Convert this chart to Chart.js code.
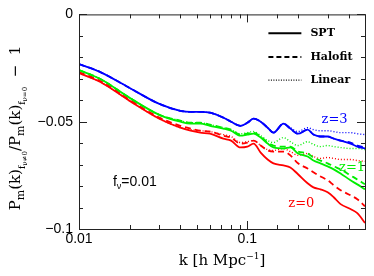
<!DOCTYPE html>
<html>
<head>
<meta charset="utf-8">
<script src="https://cdn.jsdelivr.net/npm/chart.js@4.4.0/dist/chart.umd.min.js"></script>
<style>
  body { margin: 0; background: #fff; }
  #wrap { width: 374px; height: 276px; }
</style>
</head>
<body>
<div id="wrap"><canvas id="ratio"></canvas></div>
<script>
// wavenumbers k [h/Mpc]
const kVals = [0.01, 0.0134, 0.02, 0.03, 0.04, 0.046, 0.0525, 0.06, 0.072, 0.08, 0.091, 0.1, 0.109, 0.12,
  0.132, 0.143, 0.164, 0.18, 0.2, 0.228, 0.247, 0.272, 0.3, 0.326, 0.358, 0.41, 0.45, 0.5];

// z = 3
const spt3 = [-0.0231, -0.0269, -0.0343, -0.0417, -0.0449, -0.0454, -0.0454, -0.0458, -0.0481, -0.0500, -0.0519, -0.0505, -0.0486, -0.0500,
  -0.0528, -0.0551, -0.0509, -0.0532, -0.0556, -0.0537, -0.0560, -0.0569, -0.0569, -0.0579, -0.0588, -0.0602, -0.0616, -0.0625];
const halo3 = [-0.0231, -0.0269, -0.0343, -0.0417, -0.0449, -0.0454, -0.0454, -0.0458, -0.0481, -0.0500, -0.0519, -0.0505, -0.0486, -0.0500,
  -0.0528, -0.0551, -0.0509, -0.0532, -0.0556, -0.0537, -0.0560, -0.0569, -0.0569, -0.0579, -0.0588, -0.0597, -0.0611, -0.0620];
const lin3 = [-0.0231, -0.0269, -0.0343, -0.0417, -0.0449, -0.0454, -0.0454, -0.0458, -0.0481, -0.0500, -0.0519, -0.0505, -0.0486, -0.0500,
  -0.0528, -0.0551, -0.0509, -0.0528, -0.0546, -0.0528, -0.0537, -0.0542, -0.0542, -0.0546, -0.0551, -0.0551, -0.0556, -0.0560];

// z = 1
const spt1 = [-0.0259, -0.0301, -0.0389, -0.0468, -0.0500, -0.0509, -0.0509, -0.0519, -0.0532, -0.0542, -0.0565, -0.0560, -0.0556, -0.0574,
  -0.0602, -0.0620, -0.0625, -0.0620, -0.0648, -0.0662, -0.0681, -0.0694, -0.0708, -0.0722, -0.0741, -0.0773, -0.0792, -0.0815];
const halo1 = [-0.0259, -0.0301, -0.0389, -0.0468, -0.0495, -0.0505, -0.0505, -0.0514, -0.0528, -0.0537, -0.0560, -0.0556, -0.0551, -0.0569,
  -0.0597, -0.0611, -0.0616, -0.0616, -0.0639, -0.0648, -0.0667, -0.0681, -0.0694, -0.0708, -0.0722, -0.0750, -0.0769, -0.0792];
const lin1 = [-0.0259, -0.0301, -0.0389, -0.0468, -0.0495, -0.0505, -0.0505, -0.0514, -0.0528, -0.0537, -0.0556, -0.0551, -0.0546, -0.0565,
  -0.0588, -0.0597, -0.0574, -0.0593, -0.0611, -0.0593, -0.0606, -0.0616, -0.0611, -0.0616, -0.0620, -0.0625, -0.0625, -0.0630];

// z = 0
const spt0 = [-0.0273, -0.0315, -0.0403, -0.0486, -0.0528, -0.0542, -0.0551, -0.0556, -0.0579, -0.0588, -0.0620, -0.0616, -0.0602, -0.0644,
  -0.0676, -0.0694, -0.0704, -0.0713, -0.0745, -0.0787, -0.0806, -0.0815, -0.0829, -0.0852, -0.0884, -0.0907, -0.0926, -0.0972];
const halo0 = [-0.0269, -0.0310, -0.0398, -0.0481, -0.0519, -0.0532, -0.0542, -0.0546, -0.0565, -0.0574, -0.0602, -0.0597, -0.0588, -0.0611,
  -0.0634, -0.0639, -0.0639, -0.0657, -0.0694, -0.0718, -0.0736, -0.0755, -0.0773, -0.0796, -0.0819, -0.0843, -0.0861, -0.0894];
const lin0 = [-0.0273, -0.0315, -0.0403, -0.0486, -0.0528, -0.0537, -0.0542, -0.0546, -0.0560, -0.0569, -0.0597, -0.0593, -0.0588, -0.0611,
  -0.0630, -0.0634, -0.0625, -0.0639, -0.0657, -0.0648, -0.0662, -0.0671, -0.0667, -0.0671, -0.0676, -0.0676, -0.0681, -0.0685];

const xRange = [0.01, 0.5];
const yRange = [-0.1, 0];
const yLabels = { '0': '0', '-5': '\u22120.05', '-10': '\u22120.1' };

const BLUE = '#0000ff', GREEN = '#00ee00', RED = '#ff0000';
const pts = arr => arr.map((v, i) => ({ x: kVals[i], y: v }));

function line(data, color, kind) {
  const ds = { data: pts(data), borderColor: color, pointRadius: 0, fill: false,
    cubicInterpolationMode: 'monotone', borderWidth: 1.8 };
  if (kind === 'dash') ds.borderDash = [6, 4];
  if (kind === 'dot') { ds.borderDash = [1, 2]; ds.borderWidth = 1.4; }
  return ds;
}

const isDecade = v => Math.abs(Math.log10(v) - Math.round(Math.log10(v))) < 1e-6;

function rich(ctx, parts, x, y, center) {
  let w = 0;
  parts.forEach(p => { ctx.font = p[1] + 'px ' + p[3]; w += ctx.measureText(p[0]).width; });
  let cx = center ? x - w / 2 : x;
  parts.forEach(p => {
    ctx.font = p[1] + 'px ' + p[3];
    ctx.fillText(p[0], cx, y + p[2]);
    cx += ctx.measureText(p[0]).width;
  });
}

const SERIF = '"DejaVu Serif"';
const SANS = '"Liberation Sans"';

const decor = {
  id: 'decor',
  afterDraw(chart) {
    const { ctx, chartArea: a, scales: { x, y } } = chart;
    ctx.save();
    ctx.strokeStyle = '#222';
    ctx.lineWidth = 1;
    ctx.strokeRect(a.left + 0.5, a.top + 0.5, a.right - a.left, a.bottom - a.top);
    ctx.beginPath();
    x.ticks.forEach(t => {
      const px = Math.round(x.getPixelForValue(t.value)) + 0.5;
      const len = isDecade(t.value) ? 8 : 4;
      ctx.moveTo(px, a.bottom); ctx.lineTo(px, a.bottom - len);
      ctx.moveTo(px, a.top); ctx.lineTo(px, a.top + len);
    });
    y.ticks.forEach(t => {
      const py = Math.round(y.getPixelForValue(t.value)) + 0.5;
      const len = Math.round(t.value * 100) % 5 === 0 ? 8 : 4;
      ctx.moveTo(a.left, py); ctx.lineTo(a.left + len, py);
      ctx.moveTo(a.right, py); ctx.lineTo(a.right - len, py);
    });
    ctx.stroke();

    // legend
    ctx.fillStyle = '#000';
    ctx.strokeStyle = '#000';
    ctx.textBaseline = 'middle';
    const leg = [['SPT', [], -0.0088], ['Halofit', [5, 3], -0.0199], ['Linear', [1, 1.5], -0.0306]];
    leg.forEach(([txt, dash, yv]) => {
      const py = y.getPixelForValue(yv);
      ctx.setLineDash(dash);
      ctx.lineWidth = dash.length === 2 && dash[0] === 1 ? 1.2 : 2;
      ctx.beginPath();
      ctx.moveTo(x.getPixelForValue(0.1334), py);
      ctx.lineTo(x.getPixelForValue(0.2094), py);
      ctx.stroke();
      ctx.font = '600 11px ' + SERIF;
      ctx.textAlign = 'left';
      ctx.fillText(txt, x.getPixelForValue(0.237), py);
    });
    ctx.setLineDash([]);

    // redshift labels
    ctx.textAlign = 'center';
    ctx.font = '13px ' + SERIF;
    [['z=3', BLUE, 0.330, -0.049], ['z=1', GREEN, 0.419, -0.0713], ['z=0', RED, 0.2094, -0.088]].forEach(([t, c, kx, yv]) => {
      ctx.fillStyle = c;
      ctx.fillText(t, x.getPixelForValue(kx), y.getPixelForValue(yv));
    });

    // f_nu label
    ctx.fillStyle = '#000';
    ctx.textAlign = 'left';
    ctx.textBaseline = 'alphabetic';
    rich(ctx, [['f', 14, 0, SANS], ['\u03bd', 9, 3, SANS], ['=0.01', 14, 0, SANS]],
      x.getPixelForValue(0.0159), y.getPixelForValue(-0.0778) + 5, false);

    // x title
    rich(ctx, [['k [h Mpc', 15, 0, SERIF], ['\u22121', 9, -6, SERIF], [']', 15, 0, SERIF]],
      (a.left + a.right) / 2, 265, true);

    // y title
    ctx.translate(20, 128);
    ctx.rotate(-Math.PI / 2);
    rich(ctx, [['P', 15, 0, SERIF], ['m', 11, 4, SERIF], ['(k)', 15, 0, SERIF], ['f', 9, 5, SERIF], ['\u03bd\u22600', 7, 7, SERIF],
      ['/P', 15, 0, SERIF], ['m', 11, 4, SERIF], ['(k)', 15, 0, SERIF], ['f', 9, 5, SERIF], ['\u03bd=0', 7, 7, SERIF],
      ['  \u2212  1', 15, 0, SERIF]], 0, 0, true);
    ctx.restore();
  }
};

new Chart(document.getElementById('ratio'), {
  type: 'line',
  data: {
    datasets: [
      line(spt3, BLUE, 'solid'), line(spt1, GREEN, 'solid'), line(spt0, RED, 'solid'),
      line(halo3, BLUE, 'dash'), line(halo1, GREEN, 'dash'), line(halo0, RED, 'dash'),
      line(lin3, BLUE, 'dot'), line(lin1, GREEN, 'dot'), line(lin0, RED, 'dot')
    ]
  },
  options: {
    responsive: true,
    maintainAspectRatio: false,
    animation: false,
    layout: { padding: { top: 13, right: 9, left: 0, bottom: 0 } },
    plugins: { legend: { display: false }, tooltip: { enabled: false } },
    scales: {
      x: {
        type: 'logarithmic', min: xRange[0], max: xRange[1],
        grid: { display: false, drawTicks: false }, border: { display: false },
        afterFit: s => { s.height = 47; },
        ticks: {
          autoSkip: false, maxRotation: 0, padding: 2, color: '#000',
          font: { family: 'Liberation Sans', size: 14 },
          callback: v => isDecade(v) ? String(+v.toPrecision(3)) : ''
        }
      },
      y: {
        min: yRange[0], max: yRange[1],
        grid: { display: false, drawTicks: false }, border: { display: false },
        afterFit: s => { s.width = 79; },
        ticks: {
          stepSize: 0.01, padding: 6, color: '#000',
          font: { family: 'Liberation Sans', size: 14 },
          callback: v => yLabels[String(Math.round(v * 100))] || ''
        }
      }
    }
  },
  plugins: [decor]
});
</script>
</body>
</html>
